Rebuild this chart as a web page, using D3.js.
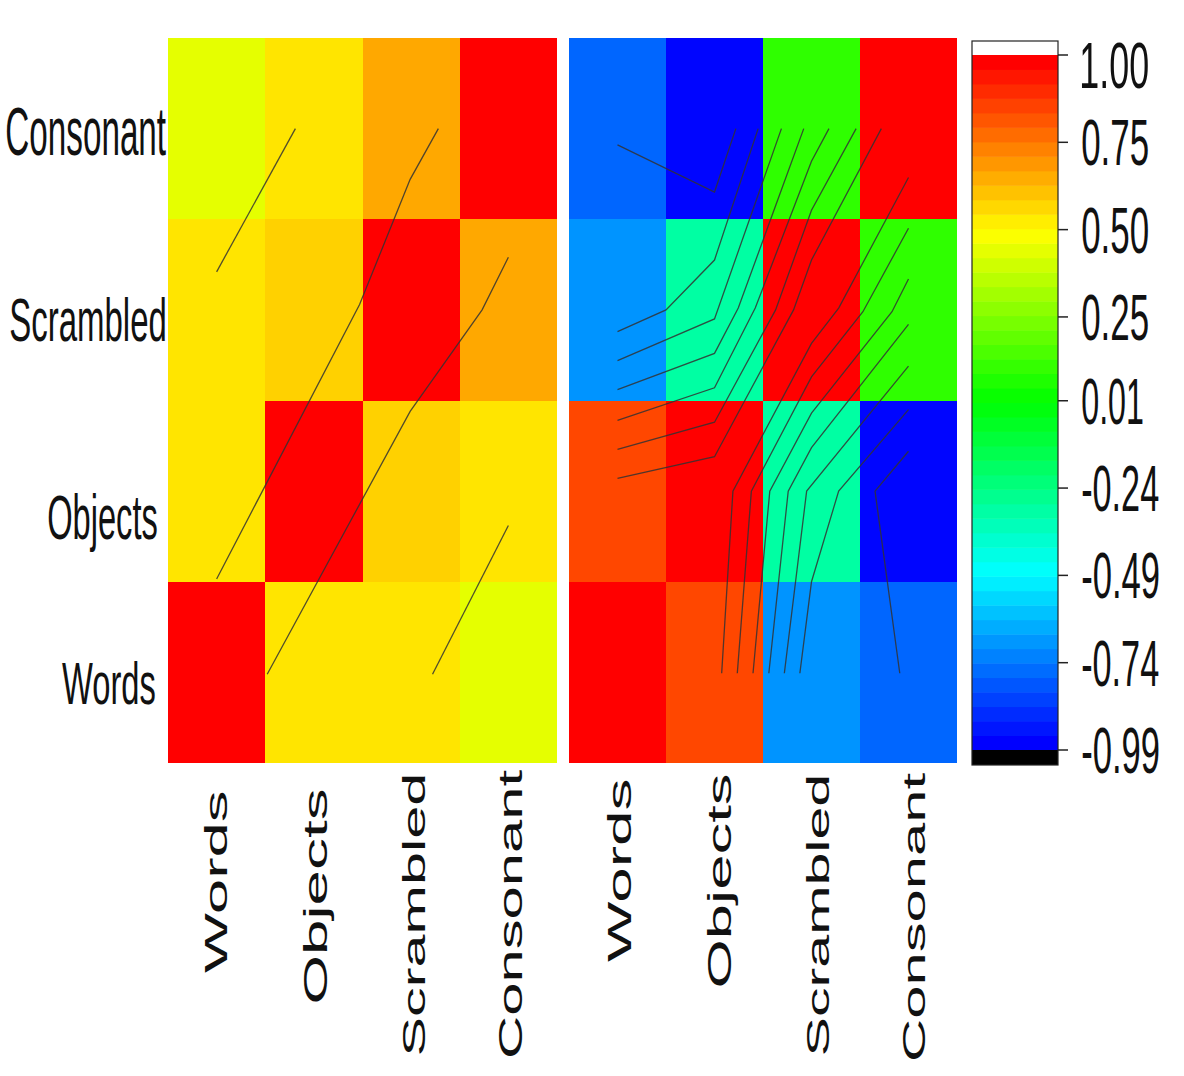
<!DOCTYPE html>
<html>
<head>
<meta charset="utf-8">
<script src="https://cdn.jsdelivr.net/npm/d3@7"></script>
<style>
  html, body { margin: 0; padding: 0; background: #fff; }
  text { font-family: "Liberation Sans", Arial, sans-serif; fill: #111; }
</style>
</head>
<body>
<div id="chart"></div>
<script>
// Categories, bottom to top on the y axis
const categories = ["Words", "Objects", "Scrambled", "Consonant"];

// Correlation matrices, one row per y category
const leftValues = [
  [1.00, 0.55, 0.55, 0.45],
  [0.55, 1.00, 0.59, 0.55],
  [0.55, 0.59, 1.00, 0.67],
  [0.45, 0.55, 0.67, 1.00]
];
const rightValues = [
  [1.00, 0.86, -0.70, -0.79],
  [0.86, 1.00, -0.31, -0.98],
  [-0.70, -0.31, 1.00, 0.10],
  [-0.79, -0.98, 0.10, 1.00]
];

// Overlaid traces, in cell units [column, row]
const leftTraces = [
  [[0.5, 2.71], [1.31, 3.5]],
  [[0.5, 1.015], [1.97, 2.53], [2.49, 3.22], [2.78, 3.5]],
  [[1.02, 0.49], [2.49, 1.94], [3.23, 2.5], [3.5, 2.79]],
  [[2.72, 0.49], [3.5, 1.31]]
];
const rightTraces = [
  [[0.5, 3.41], [1.5, 3.15], [1.72, 3.5]],
  [[0.5, 2.38], [1.0, 2.5], [1.5, 2.775], [1.95, 3.5]],
  [[0.5, 2.22], [1.5, 2.45], [2.19, 3.5]],
  [[0.5, 2.06], [1.5, 2.26], [1.745, 2.51], [2.42, 3.5]],
  [[0.5, 1.89], [1.5, 2.07], [1.92, 2.51], [2.5, 3.32], [2.68, 3.5]],
  [[0.5, 1.73], [1.5, 1.88], [2.13, 2.5], [2.5, 3.05], [2.96, 3.5]],
  [[0.5, 1.57], [1.5, 1.69], [2.315, 2.5], [2.5, 2.775], [3.22, 3.5]],
  [[1.574, 0.495], [1.69, 1.5], [2.5, 2.315], [2.78, 2.51], [3.5, 3.23]],
  [[1.735, 0.495], [1.88, 1.5], [2.5, 2.13], [3.03, 2.49], [3.5, 2.95]],
  [[1.897, 0.495], [2.07, 1.5], [2.5, 1.93], [3.33, 2.49], [3.5, 2.67]],
  [[2.06, 0.495], [2.26, 1.5], [2.5, 1.74], [3.5, 2.42]],
  [[2.22, 0.495], [2.45, 1.5], [3.5, 2.19]],
  [[2.38, 0.495], [2.5, 1.0], [2.78, 1.5], [3.5, 1.95]],
  [[3.41, 0.495], [3.155, 1.5], [3.5, 1.72]]
];

// Colour key
const keyTicks = [1.00, 0.75, 0.50, 0.25, 0.01, -0.24, -0.49, -0.74, -0.99];
const keyStops = [-0.99, -0.49, 0.01, 0.50, 1.00];
const keyColors = ["#0000ff", "#00ffff", "#00ff00", "#ffff00", "#ff0000"];
const keyLevels = 48;

const width = 1184, height = 1076;

const svg = d3.select("#chart").append("svg")
  .attr("width", width)
  .attr("height", height)
  .style("display", "block");

const color = d3.scaleLinear().domain(keyStops).range(keyColors);

const ctx = document.createElement("canvas").getContext("2d");
ctx.font = '40px "Liberation Sans"';

// Fit the ink of a text into a box, the picture is stretched so the glyphs are not in proportion
function fitText(parent, label, x0, y0, x1, y1, rotated) {
  const m = ctx.measureText(label);
  const l = m.actualBoundingBoxLeft, r = m.actualBoundingBoxRight;
  const a = m.actualBoundingBoxAscent, d = m.actualBoundingBoxDescent;
  const t = parent.append("text").attr("font-size", 40).text(label);
  if (rotated) {
    // reads bottom to top
    const sx = (y1 - y0) / (l + r), sy = (x1 - x0) / (a + d);
    t.attr("transform", `translate(${x0 + a * sy},${y1 - l * sx}) rotate(-90) scale(${sx},${sy})`);
  } else {
    const sx = (x1 - x0) / (l + r), sy = (y1 - y0) / (a + d);
    t.attr("transform", `translate(${x0 + l * sx},${y0 + a * sy}) scale(${sx},${sy})`);
  }
}

function drawPanel(values, traces, x0, x1) {
  const g = svg.append("g");
  const x = d3.scaleLinear().domain([0, 4]).range([x0, x1]);
  const y = d3.scaleLinear().domain([0, 4]).range([763, 38]);

  values.forEach((row, i) => {
    g.selectAll(null)
      .data(row)
      .enter()
      .append("rect")
      .attr("x", (d, j) => x(j))
      .attr("y", y(i + 1))
      .attr("width", (d, j) => x(j + 1) - x(j))
      .attr("height", y(i) - y(i + 1))
      .attr("fill", d => color(d))
      .attr("shape-rendering", "crispEdges");
  });

  const line = d3.line().x(d => x(d[0])).y(d => y(d[1]));
  g.selectAll("path.trace")
    .data(traces)
    .enter()
    .append("path")
    .attr("class", "trace")
    .attr("d", line)
    .attr("fill", "none")
    .attr("stroke", "#333")
    .attr("stroke-opacity", 0.85)
    .attr("stroke-width", 1.3);
}

drawPanel(leftValues, leftTraces, 168, 557);
drawPanel(rightValues, rightTraces, 569, 957);

// Colour key
const keyX0 = 972, keyX1 = 1058;
const keyY = d3.scaleLinear().domain([-0.99, 1.00]).range([750, 55]);
const levelValue = d3.scaleLinear().domain([0, keyLevels - 1]).range([-0.99, 1.00]);
const levels = d3.range(keyLevels);
const levelY = d3.scaleBand().domain(levels).range([750, 55]);

const key = svg.append("g");
key.selectAll("rect.level")
  .data(levels)
  .enter()
  .append("rect")
  .attr("class", "level")
  .attr("x", keyX0)
  .attr("y", d => levelY(d))
  .attr("width", keyX1 - keyX0)
  .attr("height", levelY.bandwidth() + 0.5)
  .attr("fill", d => color(levelValue(d)));
key.append("rect").attr("x", keyX0).attr("y", 750).attr("width", keyX1 - keyX0).attr("height", 15).attr("fill", "#000");
key.append("rect").attr("x", keyX0).attr("y", 41).attr("width", keyX1 - keyX0).attr("height", 724)
  .attr("fill", "none").attr("stroke", "#222").attr("stroke-width", 1.2);

key.selectAll("line.tick")
  .data(keyTicks)
  .enter()
  .append("line")
  .attr("class", "tick")
  .attr("x1", keyX1)
  .attr("x2", 1068)
  .attr("y1", d => keyY(d))
  .attr("y2", d => keyY(d))
  .attr("stroke", "#222")
  .attr("stroke-width", 1.5);

// The top label sits lower than its tick in the picture
keyTicks.forEach(d => {
  const c = d === 1 ? 65 : keyY(d);
  fitText(key, d.toFixed(2), 1082, c - 23, d < 0 ? 1159 : d === 0.01 ? 1143 : 1148, c + 23);
});

// Axis labels, ink boxes
const labels = svg.append("g");
const yBoxes = [[62, 659, 155, 704], [48, 492, 157, 551], [10, 295, 165, 341], [7, 107, 166, 155]];
categories.forEach((c, i) => fitText(labels, c, yBoxes[i][0], yBoxes[i][1], yBoxes[i][2], yBoxes[i][3]));

const leftBoxes = [[203, 792, 227, 973], [303, 790, 334, 1003], [402, 776, 425, 1055], [499, 770, 522, 1056]];
const rightBoxes = [[606, 780, 631, 962], [707, 775, 738, 987], [806, 777, 829, 1055], [903, 773, 925, 1059]];
categories.forEach((c, i) => {
  fitText(labels, c, leftBoxes[i][0], leftBoxes[i][1], leftBoxes[i][2], leftBoxes[i][3], true);
  fitText(labels, c, rightBoxes[i][0], rightBoxes[i][1], rightBoxes[i][2], rightBoxes[i][3], true);
});
</script>
</body>
</html>
